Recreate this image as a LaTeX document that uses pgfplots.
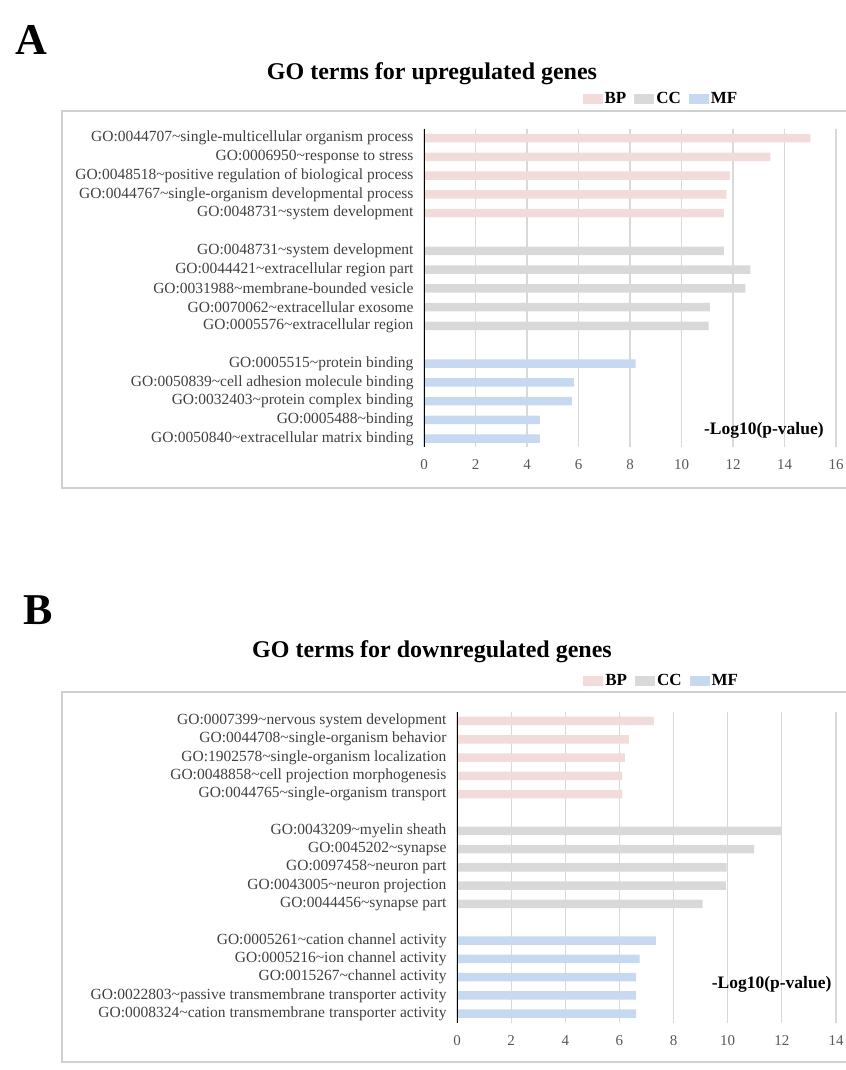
\documentclass[border=0pt]{standalone}
\usepackage{fontspec}
\setmainfont{Liberation Serif}
\usepackage{pgfplots}
\usepackage{pgfplotstable}
\pgfplotsset{compat=1.18}
\definecolor{bpc}{HTML}{F2DCDB}
\definecolor{ccc}{HTML}{D9D9D9}
\definecolor{mfc}{HTML}{C6D9F1}
\definecolor{labc}{HTML}{404040}
\definecolor{tickc}{HTML}{595959}
\definecolor{gridc}{HTML}{D9D9D9}
\definecolor{framec}{HTML}{D0D0D0}
\newcommand{\tl}{\textasciitilde}

% upregulated
\pgfplotstableread{
row val
0 15.00
1 13.45
2 11.88
3 11.75
4 11.65
}\upBP
\pgfplotstableread{
row val
6 11.65
7 12.67
8 12.48
9 11.10
10 11.05
}\upCC
\pgfplotstableread{
row val
12 8.22
13 5.82
14 5.74
15 4.50
16 4.50
}\upMF
% downregulated
\pgfplotstableread{
row val
0 7.27
1 6.35
2 6.20
3 6.10
4 6.10
}\dnBP
\pgfplotstableread{
row val
6 12.00
7 10.98
8 9.96
9 9.93
10 9.07
}\dnCC
\pgfplotstableread{
row val
12 7.35
13 6.75
14 6.62
15 6.62
16 6.62
}\dnMF

\pgfplotsset{
  gostyle/.style={
    scale only axis,
    y dir=reverse,
    axis line style={draw=none},
    major tick length=0pt,
    xmajorgrids,
    grid style={gridc, line width=1.1bp},
    ytick={0,1,2,3,4,6,7,8,9,10,12,13,14,15,16},
    yticklabel style={font=\fontsize{15.5bp}{17bp}\selectfont, text=labc, anchor=east, xshift=-7bp},
    xticklabel style={font=\fontsize{15bp}{17bp}\selectfont, text=tickc, yshift=-9bp},
    /pgf/number format/assume math mode=true,
    xlabel style={font=\fontsize{17.5bp}{19bp}\selectfont\bfseries, text=black, anchor=center},
    legend columns=3,
    legend style={draw=none, fill=none, font=\fontsize{17bp}{19bp}\selectfont\bfseries,
      anchor=center, /tikz/every even column/.append style={column sep=6bp}},
    legend image code/.code={\fill[#1, draw=none] (0bp,-5bp) rectangle (20bp,5bp);},
    bar width=8.5bp,
  },
  gobar/.style={xbar, bar shift=0pt, draw=none, fill=#1},
}

\begin{document}
\begin{tikzpicture}
\useasboundingbox (0,0) rectangle (846bp,1070bp);
% Panel A
\node[font=\fontsize{44bp}{46bp}\selectfont\bfseries] at (31bp,1030bp) {A};
\node[font=\fontsize{24bp}{26bp}\selectfont\bfseries] at (432bp,996bp) {GO terms for upregulated genes};
\draw[framec, line width=1.5bp] (62bp,959bp) rectangle (852bp,582bp);
\begin{axis}[gostyle,
  at={(424bp,941bp)}, anchor=north west,
  width=412bp, height=318bp,
  xmin=0, xmax=16, ymin=-0.48, ymax=16.44,
  xtick={0,2,...,16},
  yticklabels={
    GO:0044707\tl single-multicellular organism process,
    GO:0006950\tl response to stress,
    GO:0048518\tl positive regulation of biological process,
    GO:0044767\tl single-organism developmental process,
    GO:0048731\tl system development,
    GO:0048731\tl system development,
    GO:0044421\tl extracellular region part,
    GO:0031988\tl membrane-bounded vesicle,
    GO:0070062\tl extracellular exosome,
    GO:0005576\tl extracellular region,
    GO:0005515\tl protein binding,
    GO:0050839\tl cell adhesion molecule binding,
    GO:0032403\tl protein complex binding,
    GO:0005488\tl binding,
    GO:0050840\tl extracellular matrix binding},
  xlabel={-Log10(p-value)},
  xlabel style={at={(axis description cs:0.825,0.053)}},
  legend style={at={(axis description cs:0.575,1.094)}},
]
\addplot[gobar=bpc] table[x=val, y=row] {\upBP};
\addplot[gobar=ccc] table[x=val, y=row] {\upCC};
\addplot[gobar=mfc] table[x=val, y=row] {\upMF};
\legend{BP,CC,MF}
\draw[black, line width=1.5bp] (axis cs:0,-0.48) -- (axis cs:0,16.44);
\end{axis}

% Panel B
\node[font=\fontsize{44bp}{46bp}\selectfont\bfseries] at (38bp,460bp) {B};
\node[font=\fontsize{24bp}{26bp}\selectfont\bfseries] at (432bp,418bp) {GO terms for downregulated genes};
\draw[framec, line width=1.5bp] (62bp,378bp) rectangle (852bp,8bp);
\begin{axis}[gostyle,
  at={(457bp,358bp)}, anchor=north west,
  width=379bp, height=310.7bp,
  xmin=0, xmax=14, ymin=-0.49, ymax=16.49,
  xtick={0,2,...,14},
  yticklabels={
    GO:0007399\tl nervous system development,
    GO:0044708\tl single-organism behavior,
    GO:1902578\tl single-organism localization,
    GO:0048858\tl cell projection morphogenesis,
    GO:0044765\tl single-organism transport,
    GO:0043209\tl myelin sheath,
    GO:0045202\tl synapse,
    GO:0097458\tl neuron part,
    GO:0043005\tl neuron projection,
    GO:0044456\tl synapse part,
    GO:0005261\tl cation channel activity,
    GO:0005216\tl ion channel activity,
    GO:0015267\tl channel activity,
    GO:0022803\tl passive transmembrane transporter activity,
    GO:0008324\tl cation transmembrane transporter activity},
  xlabel={-Log10(p-value)},
  xlabel style={at={(axis description cs:0.83,0.122)}},
  legend style={at={(axis description cs:0.54,1.10)}},
]
\addplot[gobar=bpc] table[x=val, y=row] {\dnBP};
\addplot[gobar=ccc] table[x=val, y=row] {\dnCC};
\addplot[gobar=mfc] table[x=val, y=row] {\dnMF};
\legend{BP,CC,MF}
\draw[black, line width=1.5bp] (axis cs:0,-0.49) -- (axis cs:0,16.49);
\end{axis}
\end{tikzpicture}
\end{document}
